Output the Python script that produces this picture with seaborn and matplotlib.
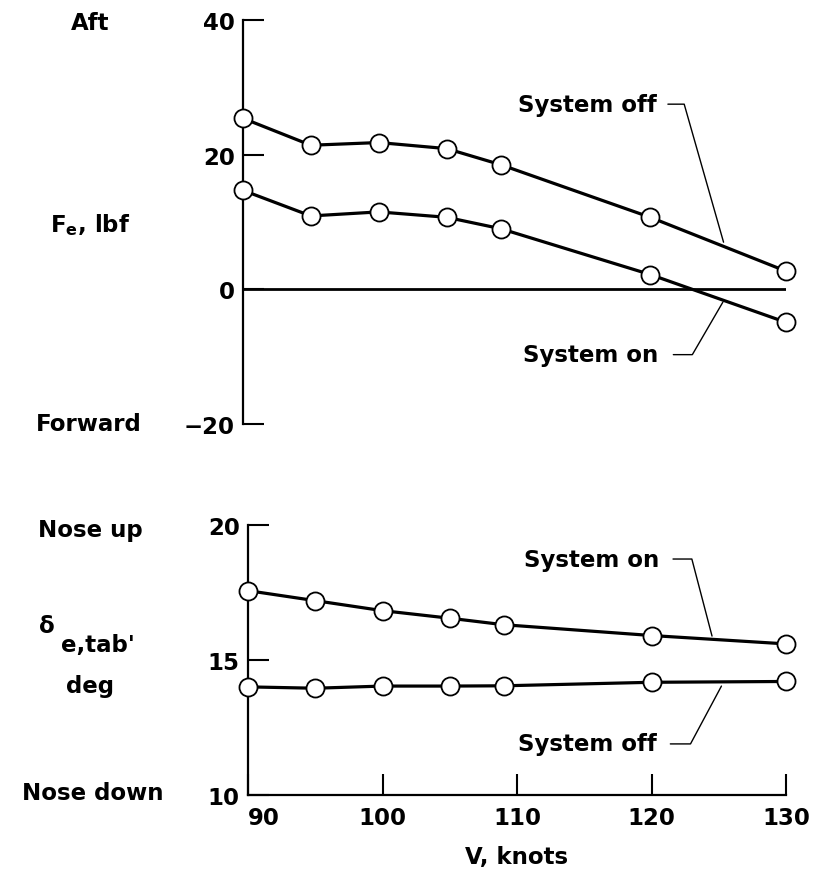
import matplotlib
matplotlib.use("Agg")
import matplotlib.pyplot as plt
import seaborn as sns
import pandas as pd

# ---- data ----
speed_top = [90, 95, 100, 105, 109, 120, 130]
fe_system_off = [25.4, 21.4, 21.8, 20.9, 18.5, 10.7, 2.7]
fe_system_on = [14.7, 10.9, 11.5, 10.7, 9.0, 2.2, -4.9]

speed_bot = [90, 95, 100, 105, 109, 120, 130]
tab_system_on = [17.56, 17.19, 16.82, 16.54, 16.30, 15.90, 15.59]
tab_system_off = [14.00, 13.95, 14.03, 14.03, 14.04, 14.17, 14.20]

top_yticks = [-20, 0, 20, 40]
bot_yticks = [10, 15, 20]
xticks = [90, 100, 110, 120, 130]

sns.set_theme(style="white")
FONT = "DejaVu Sans"
plt.rcParams["font.family"] = [FONT]
plt.rcParams["font.weight"] = "bold"
plt.rcParams["mathtext.fontset"] = "custom"
plt.rcParams["mathtext.rm"] = "DejaVu Sans:bold"
plt.rcParams["mathtext.it"] = "DejaVu Sans:bold"
plt.rcParams["mathtext.default"] = "rm"

W, H = 816, 879
fig = plt.figure(figsize=(W / 100, H / 100), dpi=100)
fig.patch.set_facecolor("white")

def fx(px):
    return px / W

def fy(py):
    return 1 - py / H

ax1 = fig.add_axes([fx(243), fy(425), fx(786) - fx(243), fy(21) - fy(425)])
ax2 = fig.add_axes([fx(248), fy(796), fx(786) - fx(248), fy(525.7) - fy(796)])

FS = 16.5
LW = 2.3
mk = dict(marker="o", markersize=13, markerfacecolor="white",
          markeredgecolor="black", markeredgewidth=1.3)

df_top = pd.DataFrame({"V": speed_top * 2,
                       "F": fe_system_off + fe_system_on,
                       "s": ["off"] * len(speed_top) + ["on"] * len(speed_top)})
df_bot = pd.DataFrame({"V": speed_bot * 2,
                       "d": tab_system_on + tab_system_off,
                       "s": ["on"] * len(speed_bot) + ["off"] * len(speed_bot)})

ax1.axhline(0, color="black", lw=2.0, zorder=1)
sns.lineplot(data=df_top, x="V", y="F", units="s", estimator=None, color="black",
             lw=LW, ax=ax1, zorder=3, clip_on=False, **mk)
sns.lineplot(data=df_bot, x="V", y="d", units="s", estimator=None, color="black",
             lw=LW, ax=ax2, zorder=3, clip_on=False, **mk)

for ax in (ax1, ax2):
    ax.set_facecolor("white")
    ax.set_xlim(90, 130)
    ax.set_xlabel("")
    ax.set_ylabel("")
    ax.grid(False)
    for s in ("top", "right"):
        ax.spines[s].set_visible(False)
    ax.spines["left"].set_color("black")
    ax.spines["left"].set_linewidth(1.6)
    ax.tick_params(axis="both", direction="in", length=15, width=1.5,
                   color="black", labelsize=FS, labelcolor="black", pad=6)
    ax.tick_params(axis="y", left=True)

# top panel
ax1.set_ylim(-20, 40)
ax1.set_yticks(top_yticks)
ax1.set_yticklabels([("\u221220" if v < 0 else str(v)) for v in top_yticks],
                    fontsize=FS, fontweight="bold")
ax1.spines["bottom"].set_visible(False)
ax1.set_xticks([])

# bottom panel
ax2.set_ylim(10, 20)
ax2.set_yticks(bot_yticks)
ax2.set_yticklabels([str(v) for v in bot_yticks], fontsize=FS, fontweight="bold")
ax2.set_xticks(xticks)
ax2.set_xticklabels([str(v) for v in xticks], fontsize=FS, fontweight="bold")
ax2.get_xticklabels()[0].set_horizontalalignment("left")
ax2.spines["bottom"].set_color("black")
ax2.spines["bottom"].set_linewidth(1.6)
ax2.tick_params(axis="x", bottom=True, pad=8)

# annotations with leader lines
label_off = "System off"
label_on = "System on"
lead = dict(color="black", lw=1.0, clip_on=False, zorder=2)

def annotate(ax, text, tx, ty, x1, x2, x3, y3):
    ax.text(tx, ty, text, ha="right", va="center", fontsize=FS,
            fontweight="bold", color="black")
    ax.plot([x1, x2, x3], [ty, ty, y3], **lead)

annotate(ax1, label_off, 120.5, 27.5, 121.3, 122.5, 125.4, 7.0)
annotate(ax1, label_on, 120.6, -9.7, 121.7, 123.1, 125.35, -1.9)
annotate(ax2, label_on, 120.6, 18.73, 121.6, 123.0, 124.5, 15.88)
annotate(ax2, label_off, 120.4, 11.89, 121.4, 122.9, 125.2, 14.03)

# side labels
txt = dict(ha="center", va="center", fontsize=FS, fontweight="bold", color="black")
fig.text(fx(90), fy(23), "Aft", **txt)
fig.text(fx(90), fy(225), "F$_{e}$, lbf", **txt)
fig.text(fx(89), fy(425), "Forward", **txt)
fig.text(fx(90), fy(530), "Nose up", **txt)
fig.text(fx(47), fy(627), "\u03b4", **txt)
fig.text(fx(98), fy(646), "e,tab'", **txt)
fig.text(fx(90), fy(687), "deg", **txt)
fig.text(fx(93), fy(794), "Nose down", **txt)
fig.text(fx(517), fy(858), "V, knots", **txt)

fig.savefig("out.png", dpi=100, facecolor="white")
